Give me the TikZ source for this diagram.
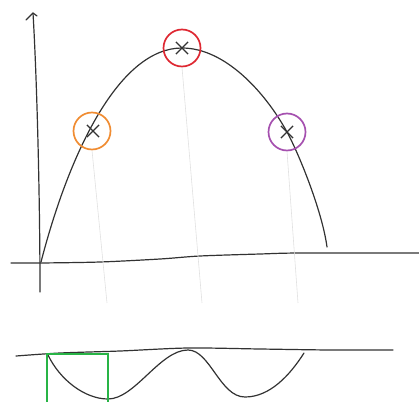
\documentclass[tikz,border=0pt]{standalone}
\usetikzlibrary{shapes.misc}
\definecolor{pencil}{RGB}{50,50,50}
\definecolor{faint}{RGB}{225,225,225}
\definecolor{corange}{RGB}{240,140,50}
\definecolor{cred}{RGB}{222,40,50}
\definecolor{cpurple}{RGB}{165,80,175}
\definecolor{cgreen}{RGB}{40,180,70}
\tikzset{
  stroke/.style={draw=pencil, line width=1.2pt, line cap=round, line join=round},
  ring/.style={circle, draw=#1, line width=1.7pt, minimum size=37pt, inner sep=0pt},
  xmark/.style={cross out, draw=pencil, line width=1.2pt, minimum size=11pt, inner sep=0pt},
  guide/.style={draw=faint, line width=0.6pt}
}
\begin{document}
\begin{tikzpicture}[x=1pt,y=-1pt]
\useasboundingbox (0,0) rectangle (419,401);
% axes
\draw[stroke] (40,292) .. controls (40,200) and (37,80) .. (33,13);
\draw[stroke] (26,20) -- (33,13) -- (37,16);
\draw[stroke] plot[smooth, tension=0.5] coordinates {(11,263) (40,263) (100,262) (160,259) (200,256) (260,254) (300,253) (419,253)};
% curve
\draw[stroke] (41,262) .. controls (70,150) and (120,48) .. (182,48)
  .. controls (225,48) and (265,92) .. (287,132)
  .. controls (298,152) and (322,210) .. (327,247);
% guide lines
\coordinate (g1) at (107,303);
\coordinate (g2) at (202,303);
\coordinate (g3) at (298,303);
\node[xmark] (x1) at (93,131) {};
\node[xmark] (x2) at (182,48) {};
\node[xmark] (x3) at (287,132) {};
\node[ring=corange] (c1) at (92,131) {};
\node[ring=cred] (c2) at (182,48) {};
\node[ring=cpurple] (c3) at (287,132) {};
\draw[guide] (c1.south) -- (g1);
\draw[guide] (c2.south) -- (g2);
\draw[guide] (c3.south) -- (g3);
% bottom sketch
\draw[stroke] plot[smooth, tension=0.5] coordinates {(16,356) (60,353) (120,351) (188,348) (260,349) (330,350) (393,350)};
\draw[stroke] (48,355) .. controls (60,380) and (85,399) .. (108,399)
  .. controls (135,399) and (160,350) .. (188,350)
  .. controls (210,350) and (220,397) .. (245,397)
  .. controls (270,397) and (290,375) .. (304,353);
\draw[draw=cgreen, line width=2pt] (47,402) -- (47,354) -- (108,354) -- (108,402);
\end{tikzpicture}
\end{document}
